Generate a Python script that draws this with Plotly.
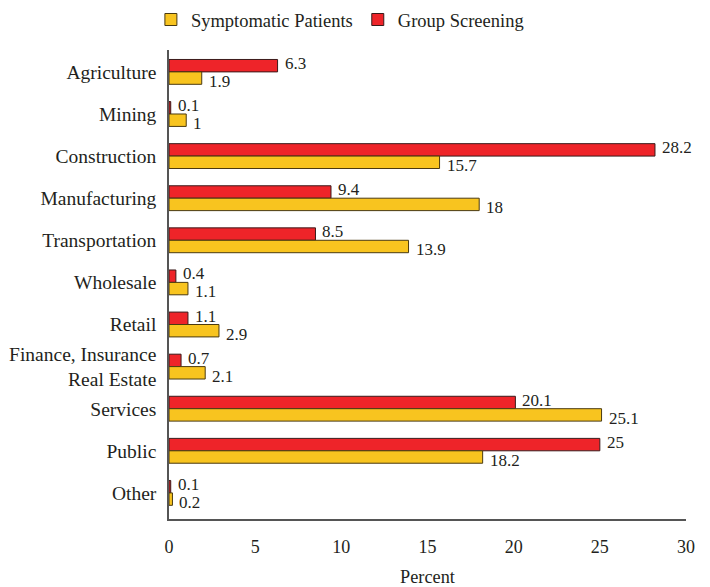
import plotly.graph_objects as go

categories = ["Agriculture", "Mining", "Construction", "Manufacturing", "Transportation",
              "Wholesale", "Retail", "Finance, Insurance<br>Real Estate", "Services", "Public", "Other"]
group_screening = [6.3, 0.1, 28.2, 9.4, 8.5, 0.4, 1.1, 0.7, 20.1, 25, 0.1]
symptomatic = [1.9, 1, 15.7, 18, 13.9, 1.1, 2.9, 2.1, 25.1, 18.2, 0.2]
x_ticks = [0, 5, 10, 15, 20, 25, 30]

FONT = "Liberation Serif"
TXT = "#231f20"

fig = go.Figure()
fig.add_trace(go.Bar(
    y=categories, x=group_screening, orientation="h", name="Group Screening",
    marker=dict(color="#ee2429", line=dict(color="#3a1a1a", width=1)),
    legendrank=2, hoverinfo="x+name",
))
fig.add_trace(go.Bar(
    y=categories, x=symptomatic, orientation="h", name="Symptomatic Patients",
    marker=dict(color="#f8c41f", line=dict(color="#4a3a10", width=1)),
    legendrank=1, hoverinfo="x+name",
))

# value labels placed at the data coordinates of each bar end
for cat, v in zip(categories, group_screening):
    fig.add_annotation(x=v, y=cat, xref="x", yref="y", text=str(v), showarrow=False,
                       xanchor="left", yanchor="middle", xshift=5, yshift=8.5,
                       font=dict(family=FONT, size=17, color=TXT))
for cat, v in zip(categories, symptomatic):
    fig.add_annotation(x=v, y=cat, xref="x", yref="y", text=str(v), showarrow=False,
                       xanchor="left", yanchor="middle", xshift=5, yshift=-9.5,
                       font=dict(family=FONT, size=17, color=TXT))

fig.update_layout(
    width=710, height=587,
    margin=dict(l=169, r=24, t=50, b=68, autoexpand=False),
    paper_bgcolor="white", plot_bgcolor="white",
    barmode="group", bargap=0.41, bargroupgap=0,
    font=dict(family=FONT, size=18, color=TXT),
    showlegend=True,
    legend=dict(orientation="h", x=-0.035, xanchor="left", y=1.064, yanchor="middle",
                font=dict(family=FONT, size=18.5, color=TXT), itemwidth=30,
                traceorder="normal"),
    xaxis=dict(range=[0, 30], tickvals=x_ticks, showgrid=False, zeroline=False,
               showline=True, linecolor="#555555", linewidth=1.5, ticks="",
               ticklabelstandoff=11, automargin=False,
               tickfont=dict(family=FONT, size=18),
               title=dict(text="Percent", standoff=14, font=dict(family=FONT, size=18.3))),
    yaxis=dict(range=[10.62, -0.52], showgrid=False, zeroline=False,
               showline=True, linecolor="#555555", linewidth=1.5, ticks="",
               ticklabelstandoff=7, automargin=False,
               tickfont=dict(family=FONT, size=19.5),
               categoryorder="array", categoryarray=categories),
)

fig.write_html("out.html", config={"displayModeBar": False},
               post_script="document.body.style.margin='0';document.body.style.overflow='hidden';")
